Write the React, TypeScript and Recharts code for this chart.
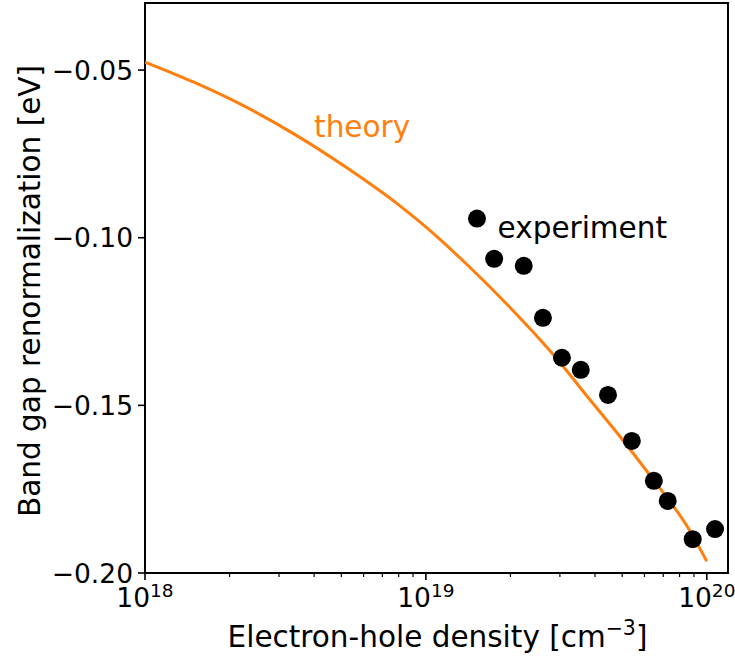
import React from 'react';
import {
  ComposedChart,
  Line,
  Scatter,
  XAxis,
  YAxis,
  ReferenceArea,
  ReferenceDot,
} from 'recharts';

// band gap renormalization vs electron-hole density (log x)
const X_MIN = 1e18;
const X_MAX = 1.19e20;
const Y_MIN = -0.2;
const Y_MAX = -0.03;

const theoryDensity = [
  1.0e18, 1.5e18, 2.25e18, 3.4e18, 5.2e18, 8.0e18, 1.1e19, 1.4e19, 1.83e19,
  2.4e19, 3.0e19, 3.75e19, 4.9e19, 6.4e19, 8.5e19, 1.0e20,
];
const theoryShift = [
  -0.0476, -0.0537, -0.0607, -0.0691, -0.079, -0.0902, -0.0998, -0.108, -0.1176,
  -0.128, -0.1372, -0.1473, -0.1592, -0.1718, -0.186, -0.1965,
];

const expDensity = [
  1.52e19, 1.75e19, 2.23e19, 2.61e19, 3.05e19, 3.56e19, 4.45e19, 5.41e19,
  6.48e19, 7.26e19, 8.91e19, 1.07e20,
];
const expShift = [
  -0.0943, -0.1063, -0.1084, -0.1239, -0.1358, -0.1394, -0.1469, -0.1606,
  -0.1725, -0.1785, -0.1899, -0.1869,
];

const xTicks = [
  1e18, 2e18, 3e18, 4e18, 5e18, 6e18, 7e18, 8e18, 9e18,
  1e19, 2e19, 3e19, 4e19, 5e19, 6e19, 7e19, 8e19, 9e19,
  1e20,
];
const yTicks = [-0.2, -0.15, -0.1, -0.05];

const theoryData = theoryDensity.map((n, i) => ({ n, e: theoryShift[i] }));
const expData = expDensity.map((n, i) => ({ n, e: expShift[i] }));

const FONT = '"DejaVu Sans", sans-serif';
const ORANGE = '#ff7f0e';
const TICK_FS = 26.5;
const LABEL_FS = 29.5;

function XTick({ x, y, payload }: any) {
  const exp = Math.log10(payload.value);
  const major = Math.abs(exp - Math.round(exp)) < 1e-6;
  return (
    <g>
      <line
        x1={x}
        y1={y}
        x2={x}
        y2={y + (major ? 7 : 4)}
        stroke="#000"
        strokeWidth={major ? 1.6 : 1.2}
      />
      {major && (
        <text x={x} y={y + 34} textAnchor="middle" fontSize={TICK_FS} fontFamily={FONT} fill="#000">
          <tspan>10</tspan>
          <tspan dy={-10.5} fontSize={18.5}>
            {Math.round(exp)}
          </tspan>
        </text>
      )}
    </g>
  );
}

function YTick({ x, y, payload }: any) {
  const label = payload.value.toFixed(2).replace('-', '\u2212');
  return (
    <g>
      <line x1={x - 7} y1={y} x2={x} y2={y} stroke="#000" strokeWidth={1.6} />
      <text
        x={x - 12}
        y={y}
        textAnchor="end"
        dominantBaseline="central"
        fontSize={TICK_FS}
        fontFamily={FONT}
        fill="#000"
      >
        {label}
      </text>
    </g>
  );
}

function YTitle({ viewBox }: any) {
  const cy = viewBox.y + viewBox.height / 2 + 3;
  return (
    <text
      transform={`translate(40,${cy}) rotate(-90)`}
      textAnchor="middle"
      fontSize={LABEL_FS}
      fontFamily={FONT}
      fill="#000"
    >
      Band gap renormalization [eV]
    </text>
  );
}

function XTitle({ viewBox }: any) {
  const cx = viewBox.x + viewBox.width / 2 + 1;
  return (
    <text x={cx} y={647} textAnchor="middle" fontSize={LABEL_FS} fontFamily={FONT} fill="#000">
      Electron-hole density [cm
      <tspan dy={-12.5} fontSize={20.5}>
        {'\u22123'}
      </tspan>
      <tspan dy={12.5}>]</tspan>
    </text>
  );
}

const note = (text: string, color: string) => (props: any) => (
  <text x={props.cx} y={props.cy} fontSize={LABEL_FS} fontFamily={FONT} fill={color}>
    {text}
  </text>
);

export default function App() {
  return (
    <div style={{ position: 'absolute', left: 0, top: 0, background: '#fff' }}>
      <ComposedChart
        width={735}
        height={658}
        margin={{ top: 3, right: 7, bottom: 0, left: 0 }}
      >
        <XAxis
          type="number"
          dataKey="n"
          scale="log"
          domain={[X_MIN, X_MAX]}
          allowDataOverflow
          ticks={xTicks}
          interval={0}
          tick={<XTick />}
          tickLine={false}
          axisLine={false}
          tickSize={0}
          tickMargin={0}
          height={85}
          label={<XTitle />}
        />
        <YAxis
          type="number"
          domain={[Y_MIN, Y_MAX]}
          allowDataOverflow
          ticks={yTicks}
          interval={0}
          tick={<YTick />}
          tickLine={false}
          axisLine={false}
          tickSize={0}
          tickMargin={0}
          width={145}
          label={<YTitle />}
        />
        <ReferenceArea
          x1={X_MIN}
          x2={X_MAX}
          y1={Y_MIN}
          y2={Y_MAX}
          fill="none"
          fillOpacity={0}
          stroke="#000"
          strokeWidth={2}
        />
        <Line
          data={theoryData}
          dataKey="e"
          type="monotone"
          stroke={ORANGE}
          strokeWidth={3}
          dot={false}
          isAnimationActive={false}
        />
        <Scatter
          data={expData}
          dataKey="e"
          fill="#000"
          shape={(p: any) => <circle cx={p.cx} cy={p.cy} r={9} fill="#000" />}
          isAnimationActive={false}
        />
        <ReferenceDot x={4e18} y={-0.07} r={0} shape={note('theory', ORANGE)} />
        <ReferenceDot x={1.8e19} y={-0.1} r={0} shape={note('experiment', '#000')} />
      </ComposedChart>
    </div>
  );
}
